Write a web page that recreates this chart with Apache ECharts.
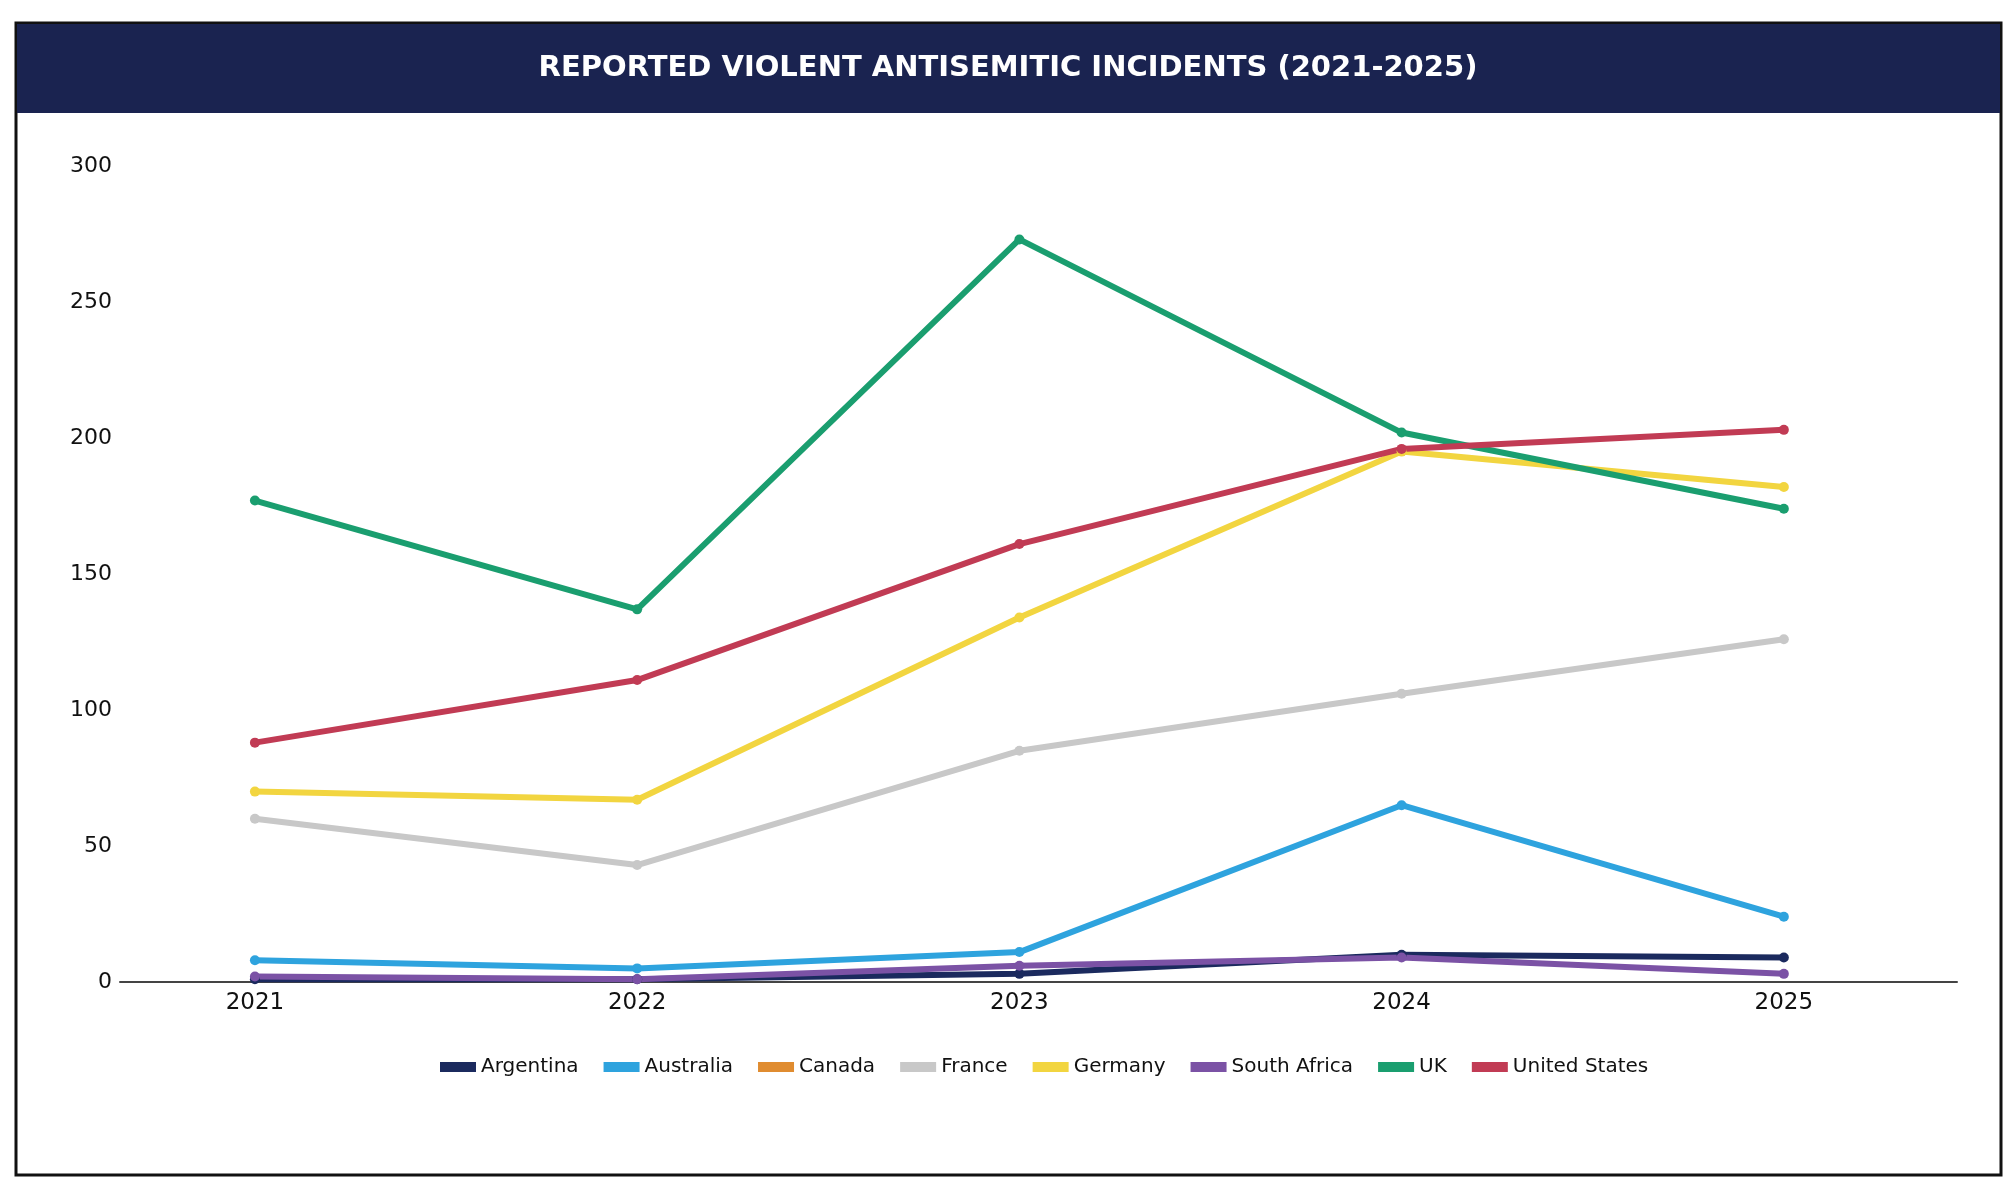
<!DOCTYPE html>
<html>
<head>
<meta charset="utf-8">
<script src="https://cdn.jsdelivr.net/npm/echarts@6/dist/echarts.min.js"></script>
<style>
html, body { margin: 0; padding: 0; background: #fff; }
#chart { width: 2016px; height: 1184px; }
</style>
</head>
<body>
<div id="chart"></div>
<script>
// data
var years = [2021, 2022, 2023, 2024, 2025];
var countries = ['Argentina', 'Australia', 'Canada', 'France', 'Germany', 'South Africa', 'UK', 'United States'];
var colors = ['#1b2a5e', '#2ea3de', '#e08c30', '#c8c8c8', '#f2d540', '#7b52a5', '#1a9e6f', '#c13b54'];
var argentina = [1, 1, 3, 10, 9];
var australia = [8, 5, 11, 65, 24];
var canada = [null, null, null, null, null];
var france = [60, 43, 85, 106, 126];
var germany = [70, 67, 134, 195, 182];
var southAfrica = [2, 1, 6, 9, 3];
var uk = [177, 137, 273, 202, 174];
var unitedStates = [88, 111, 161, 196, 203];
var yTicks = [0, 50, 100, 150, 200, 250, 300];

var allValues = [argentina, australia, canada, france, germany, southAfrica, uk, unitedStates];

var myChart = echarts.init(document.getElementById('chart'));

var series = [];
$each = function(arr, fn) { for (var i = 0; i < arr.length; i++) fn(i, arr[i]); };
$each(countries, function(index, name) {
	var pts = [];
	$each(years, function(j, yr) {
		pts.push([yr, allValues[index][j]]);
	});
	series.push({
		name : name,
		type : 'line',
		data : pts,
		symbol : 'circle',
		symbolSize : 10,
		showSymbol : true,
		lineStyle : { width : 6, color : colors[index] },
		itemStyle : { color : colors[index] },
		emphasis : { disabled : true },
		animation : false
	});
});

option = {
	color : colors,
	textStyle : { fontFamily : 'DejaVu Sans' },
	title : {
		text : 'REPORTED VIOLENT ANTISEMITIC INCIDENTS (2021-2025)',
		left : 'center',
		top : 49,
		textStyle : { color : '#ffffff', fontSize : 29, fontWeight : 'bold', fontFamily : 'DejaVu Sans' }
	},
	graphic : [ {
		type : 'rect',
		z : -10,
		shape : { x : 16, y : 23, width : 1985, height : 1152 },
		style : { fill : '#ffffff', stroke : '#111111', lineWidth : 3 }
	}, {
		type : 'rect',
		z : -9,
		shape : { x : 17, y : 24, width : 1983, height : 89 },
		style : { fill : '#1a2350' }
	} ],
	legend : {
		data : countries,
		top : 1052,
		left : 435,
		icon : 'rect',
		itemWidth : 36,
		itemHeight : 10,
		itemGap : 25,
		textStyle : { fontSize : 20, color : '#111', fontFamily : 'DejaVu Sans' }
	},
	grid : { left : 120, right : 59, top : 166, bottom : 202 },
	xAxis : {
		type : 'value',
		min : 2020.647,
		max : 2025.453,
		splitLine : { show : false },
		axisTick : { show : false },
		axisLine : { show : true, lineStyle : { color : '#444', width : 2 } },
		axisLabel : {
			customValues : years,
			fontSize : 23,
			color : '#111',
			margin : 10,
			formatter : function(v) { return String(v); }
		}
	},
	yAxis : {
		type : 'value',
		min : 0,
		max : 300,
		interval : 50,
		splitLine : { show : false },
		axisTick : { show : false },
		axisLine : { show : false },
		axisLabel : { fontSize : 22, color : '#111', margin : 8 }
	},
	series : series
};

myChart.setOption(option);
</script>
</body>
</html>
